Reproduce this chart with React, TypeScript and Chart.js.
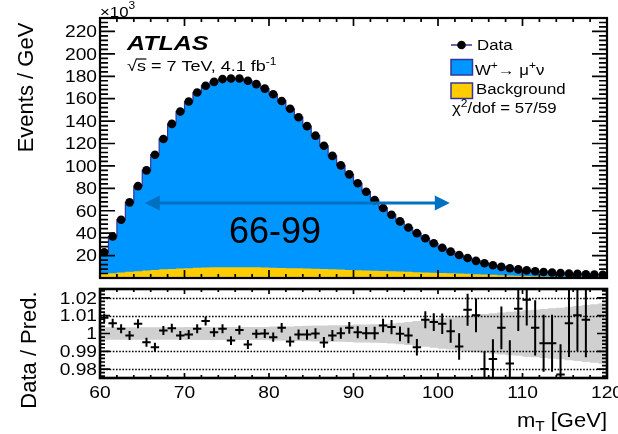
import React, { useEffect, useRef } from "react";
import { Chart, registerables } from "chart.js";

Chart.register(...registerables);

const W = 618;
const H = 434;
const FONT = "'Liberation Sans', Arial, Helvetica, sans-serif";

// m_T binning: 1 GeV bins between 60 and 120 GeV
const mtMin = 60;
const mtMax = 120;
const binWidth = 1;
const nBins = (mtMax - mtMin) / binWidth;
const binEdges = Array.from({ length: nBins + 1 }, (_, i) => mtMin + i * binWidth);
const binCentres = binEdges.slice(0, nBins).map((e) => e + binWidth / 2);

// Events / GeV in units of 10^3
const dataEvents = [
  23, 37, 52, 67.5, 82, 96, 110, 124, 137.5, 148.5,
  157.5, 165.5, 171.5, 175, 177.5, 178, 178, 176, 173, 169,
  164, 158, 151, 143.5, 135.5, 127, 118, 109, 100.5, 92.5,
  84.5, 77, 69.5, 62.5, 56.5, 50.5, 45, 40, 35.5, 31,
  27, 23.5, 20.5, 17.8, 15.3, 13.2, 11.4, 9.9, 8.7, 7.7,
  6.8, 6.0, 5.4, 4.9, 4.4, 4.0, 3.7, 3.4, 3.1, 2.9,
];

const wSignal = [
  19.5, 32.8, 47.1, 62.0, 75.9, 89.3, 102.8, 116.3, 129.4, 140.0,
  148.7, 156.4, 162.2, 165.5, 167.9, 168.3, 168.3, 166.4, 163.5, 159.6,
  154.8, 149.0, 142.2, 134.9, 127.1, 118.8, 110.0, 101.3, 93.0, 85.3,
  77.5, 70.3, 63.0, 56.3, 50.5, 44.8, 39.5, 34.8, 30.5, 26.3,
  22.5, 19.3, 16.5, 14.1, 11.9, 10.1, 8.6, 7.4, 6.5, 5.7,
  5.0, 4.4, 4.0, 3.7, 3.3, 3.0, 2.8, 2.6, 2.4, 2.3,
];

const background = [
  3.5, 4.2, 4.9, 5.5, 6.1, 6.7, 7.2, 7.7, 8.1, 8.5,
  8.8, 9.1, 9.3, 9.5, 9.6, 9.7, 9.7, 9.6, 9.5, 9.4,
  9.2, 9.0, 8.8, 8.6, 8.4, 8.2, 8.0, 7.7, 7.5, 7.2,
  7.0, 6.7, 6.5, 6.2, 6.0, 5.7, 5.5, 5.2, 5.0, 4.7,
  4.5, 4.2, 4.0, 3.7, 3.4, 3.1, 2.8, 2.5, 2.2, 2.0,
  1.8, 1.6, 1.4, 1.2, 1.1, 1.0, 0.9, 0.8, 0.7, 0.6,
];

// Data / prediction per bin
const ratio: (number | null)[] = [
  1.0088, 1.0058, 1.0027, 0.9989, 1.0055, 0.9951, 0.9923, 1.0017, 1.003, 0.9989,
  0.9994, 1.0027, 1.007, 1.0007, 1.0027, 0.996, 1.002, 0.9938, 0.9998, 1.0,
  0.9979, 1.0032, 0.9955, 0.9994, 0.9994, 1.0, 0.995, 0.9989, 1.0002, 1.0032,
  1.0007, 1.0002, 1.0002, 1.0045, 1.0036, 0.9998, 0.9989, 0.9923, 1.0077, 1.0064,
  1.0055, 1.0013, 0.9927, 1.0134, 1.0102, 0.98, 0.9857, 1.0032, 0.9832, 1.0139,
  1.019, 1.0032, 0.9945, 0.9945, 0.977, 1.0058, 1.0102, 1.0077, null, null,
];

const ratioErr = [
  0.0025, 0.0025, 0.0025, 0.0025, 0.0025, 0.0025, 0.0025, 0.0025, 0.0025, 0.0025,
  0.0025, 0.0025, 0.0025, 0.0025, 0.0025, 0.0025, 0.0025, 0.0025, 0.0025, 0.0025,
  0.0026, 0.0027, 0.0028, 0.0028, 0.0029, 0.003, 0.003, 0.0031, 0.0032, 0.0033,
  0.0034, 0.0035, 0.0036, 0.0038, 0.004, 0.0042, 0.0044, 0.0046, 0.0048, 0.005,
  0.0058, 0.0065, 0.0075, 0.009, 0.0095, 0.01, 0.011, 0.012, 0.013, 0.0125,
  0.0145, 0.0155, 0.016, 0.016, 0.017, 0.019, 0.02, 0.021, 0.022, 0.023,
];

// half width of the prediction uncertainty band
const systBand = [
  0.0035, 0.0035, 0.0035, 0.0035, 0.0035, 0.0035, 0.0035, 0.0035, 0.0035, 0.0035,
  0.0037, 0.0037, 0.0037, 0.0037, 0.0037, 0.0037, 0.0037, 0.0037, 0.0037, 0.0037,
  0.004, 0.004, 0.004, 0.0042, 0.0043, 0.0045, 0.0045, 0.0046, 0.0047, 0.0048,
  0.005, 0.005, 0.0052, 0.0054, 0.0056, 0.006, 0.0065, 0.007, 0.0075, 0.008,
  0.0085, 0.009, 0.0095, 0.01, 0.0105, 0.011, 0.0114, 0.0118, 0.0122, 0.0125,
  0.013, 0.0134, 0.0138, 0.0142, 0.0145, 0.015, 0.0155, 0.016, 0.0165, 0.017,
];

const eventTicks = [20, 40, 60, 80, 100, 120, 140, 160, 180, 200, 220];
const ratioTicks = [0.98, 0.99, 1, 1.01, 1.02];
const ratioTickLabels = ["0.98", "0.99", "1", "1.01", "1.02"];
const ratioGridLines = [0.98, 0.99, 1.01, 1.02];
const mtTicks = [60, 70, 80, 90, 100, 110, 120];

const eventsMax = 232;
const ratioMin = 0.975;
const ratioMax = 1.025;

// fit window annotation
const windowLow = 65.3;
const windowHigh = 101.4;
const windowLevel = 67;
const windowLabel = "66-99";
const windowLabelMt = 80.7;
const windowLabelLevel = 31;

const BLUE = "rgb(0,150,255)";
const YELLOW = "rgb(255,204,0)";
const OUTLINE = "#34349c";
const BAND = "#d0d0d0";
const ARROW = "#0070c0";

const steps = (vals: number[]) => [
  ...vals.map((v, i) => ({ x: binEdges[i], y: v })),
  { x: binEdges[nBins], y: vals[nBins - 1] },
];

type Run = { t: string; size: number; dy?: number; weight?: string; style?: string };

function fontOf(r: Run) {
  return [r.style, r.weight, `${r.size}px`, FONT].filter(Boolean).join(" ");
}

function drawRuns(
  ctx: CanvasRenderingContext2D,
  runs: Run[],
  x: number,
  y: number,
  sx = 1,
  align: "left" | "right" | "center" = "left"
) {
  ctx.save();
  const widths = runs.map((r) => {
    ctx.font = fontOf(r);
    return ctx.measureText(r.t).width;
  });
  const total = widths.reduce((a, b) => a + b, 0) * sx;
  const x0 = align === "left" ? x : align === "right" ? x - total : x - total / 2;
  ctx.translate(x0, y);
  ctx.scale(sx, 1);
  ctx.textAlign = "left";
  ctx.textBaseline = "alphabetic";
  ctx.fillStyle = "#000";
  let px = 0;
  const starts: number[] = [];
  runs.forEach((r, i) => {
    ctx.font = fontOf(r);
    starts.push(x0 + px * sx);
    ctx.fillText(r.t, px, r.dy || 0);
    px += widths[i];
  });
  ctx.restore();
  return { starts, widths: widths.map((w) => w * sx) };
}

function drawRotated(ctx: CanvasRenderingContext2D, text: string, baseX: number, cy: number, size: number) {
  ctx.save();
  ctx.translate(baseX, cy);
  ctx.rotate(-Math.PI / 2);
  ctx.font = `${size}px ${FONT}`;
  ctx.fillStyle = "#000";
  ctx.textAlign = "center";
  ctx.textBaseline = "alphabetic";
  ctx.fillText(text, 0, 0);
  ctx.restore();
}

type TickCfg = {
  yMajor: number;
  yMinor: number;
  yMajorLen: number;
  yMinorLen: number;
  xMajorLen: number;
  xMinorLen: number;
  frame: number;
};

function drawFrameAndTicks(chart: any, o: TickCfg) {
  const { ctx, chartArea: a, scales } = chart;
  const x = scales.x;
  const y = scales.y;
  ctx.save();
  ctx.strokeStyle = "#000";
  ctx.lineWidth = 1.7;
  ctx.beginPath();
  const k0 = Math.ceil(y.min / o.yMinor - 1e-6);
  const k1 = Math.floor(y.max / o.yMinor + 1e-6);
  for (let k = k0; k <= k1; k++) {
    const v = k * o.yMinor;
    const r = v / o.yMajor;
    const major = Math.abs(r - Math.round(r)) < 1e-6;
    const len = major ? o.yMajorLen : o.yMinorLen;
    const py = y.getPixelForValue(v);
    ctx.moveTo(a.left, py);
    ctx.lineTo(a.left + len, py);
    ctx.moveTo(a.right, py);
    ctx.lineTo(a.right - len, py);
  }
  for (let v = mtMin; v <= mtMax; v += 2) {
    const len = v % 10 === 0 ? o.xMajorLen : o.xMinorLen;
    const px = x.getPixelForValue(v);
    ctx.moveTo(px, a.bottom);
    ctx.lineTo(px, a.bottom - len);
    ctx.moveTo(px, a.top);
    ctx.lineTo(px, a.top + len);
  }
  ctx.stroke();
  ctx.lineWidth = o.frame;
  ctx.strokeRect(a.left, a.top, a.right - a.left, a.bottom - a.top);
  ctx.restore();
}

const TICK_FONT = 16;
const TICK_SX = 1.2;

function drawYLabels(chart: any, values: number[], labels: string[]) {
  const { ctx, chartArea: a, scales } = chart;
  values.forEach((v, i) => {
    const py = scales.y.getPixelForValue(v);
    drawRuns(ctx, [{ t: labels[i], size: TICK_FONT }], a.left - 3, py + TICK_FONT * 0.36, TICK_SX, "right");
  });
}

const topPlugin = {
  id: "topPanelDecor",
  afterDraw(chart: any) {
    const { ctx, chartArea: a, scales } = chart;
    drawFrameAndTicks(chart, {
      yMajor: 20,
      yMinor: 4,
      yMajorLen: 15,
      yMinorLen: 8,
      xMajorLen: 8,
      xMinorLen: 4,
      frame: 2.2,
    });
    drawYLabels(chart, eventTicks, eventTicks.map(String));

    // ×10^3 multiplier
    drawRuns(ctx, [{ t: "\u00d710", size: 14 }, { t: "3", size: 10, dy: -8 }], a.left, 17, 1.2);

    drawRotated(ctx, "Events / GeV", 33, 87.5, 22);

    // experiment label
    drawRuns(ctx, [{ t: "ATLAS", size: 21, weight: "bold", style: "italic" }], 127, 49.5, 1.19);
    const lab = drawRuns(
      ctx,
      [
        { t: "\u221a", size: 15 },
        { t: "s", size: 15 },
        { t: " = 7 TeV, 4.1 fb", size: 15 },
        { t: "-1", size: 10, dy: -6 },
      ],
      127,
      71,
      1.2
    );
    ctx.save();
    ctx.strokeStyle = "#000";
    ctx.lineWidth = 1.2;
    ctx.beginPath();
    ctx.moveTo(lab.starts[1] - 1, 59);
    ctx.lineTo(lab.starts[1] + lab.widths[1] + 0.5, 59);
    ctx.stroke();
    ctx.restore();

    // legend
    ctx.save();
    ctx.strokeStyle = OUTLINE;
    ctx.lineWidth = 1.5;
    ctx.beginPath();
    ctx.moveTo(451, 45);
    ctx.lineTo(472, 45);
    ctx.stroke();
    ctx.fillStyle = "#000";
    ctx.beginPath();
    ctx.arc(461.5, 45, 4.3, 0, Math.PI * 2);
    ctx.fill();
    ctx.fillStyle = BLUE;
    ctx.fillRect(451, 59.5, 21.5, 15.5);
    ctx.strokeRect(451, 59.5, 21.5, 15.5);
    ctx.fillStyle = YELLOW;
    ctx.fillRect(451, 83, 21.5, 15.5);
    ctx.strokeRect(451, 83, 21.5, 15.5);
    ctx.restore();
    drawRuns(ctx, [{ t: "Data", size: 14 }], 477, 50, 1.2);
    drawRuns(
      ctx,
      [
        { t: "W", size: 14 },
        { t: "+", size: 10, dy: -6 },
        { t: "\u2192 \u03bc", size: 14 },
        { t: "+", size: 10, dy: -6 },
        { t: "\u03bd", size: 14 },
      ],
      475,
      74.5,
      1.2
    );
    drawRuns(ctx, [{ t: "Background", size: 14 }], 476, 93.5, 1.2);
    drawRuns(
      ctx,
      [
        { t: "\u03c7", size: 14 },
        { t: "2", size: 10, dy: -6 },
        { t: "/dof = 57/59", size: 14 },
      ],
      452,
      112.5,
      1.2
    );

    // fit window arrow
    const x0 = scales.x.getPixelForValue(windowLow);
    const x1 = scales.x.getPixelForValue(windowHigh);
    const ay = scales.y.getPixelForValue(windowLevel);
    const head = 15;
    const hw = 7.5;
    ctx.save();
    ctx.strokeStyle = ARROW;
    ctx.fillStyle = ARROW;
    ctx.lineWidth = 3;
    ctx.beginPath();
    ctx.moveTo(x0 + head - 1, ay);
    ctx.lineTo(x1 - head + 1, ay);
    ctx.stroke();
    ctx.beginPath();
    ctx.moveTo(x0, ay);
    ctx.lineTo(x0 + head, ay - hw);
    ctx.lineTo(x0 + head, ay + hw);
    ctx.closePath();
    ctx.fill();
    ctx.beginPath();
    ctx.moveTo(x1, ay);
    ctx.lineTo(x1 - head, ay - hw);
    ctx.lineTo(x1 - head, ay + hw);
    ctx.closePath();
    ctx.fill();
    ctx.restore();
    drawRuns(
      ctx,
      [{ t: windowLabel, size: 36 }],
      scales.x.getPixelForValue(windowLabelMt),
      scales.y.getPixelForValue(windowLabelLevel),
      1,
      "center"
    );
  },
};

const ratioPlugin = {
  id: "ratioPanelDecor",
  afterDatasetsDraw(chart: any) {
    const { ctx, chartArea: a, scales } = chart;
    const x = scales.x;
    const y = scales.y;
    ctx.save();
    ctx.beginPath();
    ctx.rect(a.left, a.top, a.right - a.left, a.bottom - a.top);
    ctx.clip();
    // dotted reference lines
    ctx.strokeStyle = "#000";
    ctx.lineWidth = 1.3;
    ctx.setLineDash([1.6, 1.6]);
    ctx.beginPath();
    ratioGridLines.forEach((v) => {
      const py = Math.round(y.getPixelForValue(v)) + 0.5;
      ctx.moveTo(a.left, py);
      ctx.lineTo(a.right, py);
    });
    ctx.stroke();
    ctx.setLineDash([]);
    // data / prediction with statistical errors
    const meta = chart.getDatasetMeta(0);
    ctx.lineWidth = 2;
    ctx.beginPath();
    meta.data.forEach((pt: any, i: number) => {
      const r = ratio[i];
      if (r == null || pt.skip) return;
      const xl = x.getPixelForValue(binCentres[i] - binWidth / 2);
      const xr = x.getPixelForValue(binCentres[i] + binWidth / 2);
      const yt = y.getPixelForValue(r + ratioErr[i]);
      const yb = y.getPixelForValue(r - ratioErr[i]);
      ctx.moveTo(xl, pt.y);
      ctx.lineTo(xr, pt.y);
      ctx.moveTo(pt.x, yt);
      ctx.lineTo(pt.x, yb);
    });
    ctx.stroke();
    ctx.restore();
  },
  afterDraw(chart: any) {
    const { ctx, chartArea: a, scales } = chart;
    drawFrameAndTicks(chart, {
      yMajor: 0.01,
      yMinor: 0.002,
      yMajorLen: 10,
      yMinorLen: 5,
      xMajorLen: 5,
      xMinorLen: 3,
      frame: 2.6,
    });
    drawYLabels(chart, ratioTicks, ratioTickLabels);
    mtTicks.forEach((v) => {
      drawRuns(ctx, [{ t: String(v), size: TICK_FONT }], scales.x.getPixelForValue(v), 397.5, TICK_SX, "center");
    });
    drawRotated(ctx, "Data / Pred.", 36, 350, 22);
    drawRuns(
      ctx,
      [
        { t: "m", size: 20 },
        { t: "T", size: 14, dy: 4 },
        { t: " [GeV]", size: 20 },
      ],
      a.right,
      427,
      1.1,
      "right"
    );
  },
};

export default function App() {
  const topRef = useRef<HTMLCanvasElement>(null);
  const ratioRef = useRef<HTMLCanvasElement>(null);

  useEffect(() => {
    const total = wSignal.map((v, i) => v + background[i]);

    const top = new Chart(topRef.current as HTMLCanvasElement, {
      type: "line",
      data: {
        datasets: [
          {
            label: "Data",
            data: binCentres.map((x, i) => ({ x, y: dataEvents[i] })),
            showLine: false,
            pointRadius: 4.3,
            pointBorderWidth: 0,
            backgroundColor: "#000",
            borderColor: "#000",
            order: 0,
          },
          {
            label: "Background",
            data: steps(background),
            stepped: "before",
            fill: "origin",
            backgroundColor: YELLOW,
            borderColor: "rgba(0,0,0,0)",
            borderWidth: 0,
            pointRadius: 0,
            order: 1,
          },
          {
            label: "W+ -> mu+ nu",
            data: steps(total),
            stepped: "before",
            fill: "origin",
            backgroundColor: BLUE,
            borderColor: OUTLINE,
            borderWidth: 1.2,
            pointRadius: 0,
            order: 2,
          },
        ],
      },
      options: {
        responsive: false,
        animation: false,
        events: [],
        layout: { padding: { left: 100, top: 18, right: W - 607, bottom: H - 278 } },
        plugins: { legend: { display: false }, tooltip: { enabled: false } },
        scales: {
          x: { type: "linear", display: false, min: mtMin, max: mtMax },
          y: { type: "linear", display: false, min: 0, max: eventsMax },
        },
      },
      plugins: [topPlugin],
    } as any);

    const bot = new Chart(ratioRef.current as HTMLCanvasElement, {
      type: "line",
      data: {
        datasets: [
          {
            label: "Data / Pred.",
            data: binCentres.map((x, i) => ({ x, y: ratio[i] })),
            showLine: false,
            pointRadius: 0,
            order: 0,
          },
          {
            label: "band up",
            data: steps(systBand.map((e) => 1 + e)),
            stepped: "before",
            fill: "+1",
            backgroundColor: BAND,
            borderColor: "rgba(0,0,0,0)",
            borderWidth: 0,
            pointRadius: 0,
            order: 1,
          },
          {
            label: "band down",
            data: steps(systBand.map((e) => 1 - e)),
            stepped: "before",
            fill: false,
            borderColor: "rgba(0,0,0,0)",
            borderWidth: 0,
            pointRadius: 0,
            order: 2,
          },
        ],
      },
      options: {
        responsive: false,
        animation: false,
        events: [],
        layout: { padding: { left: 100, top: 289, right: W - 607, bottom: H - 378 } },
        plugins: { legend: { display: false }, tooltip: { enabled: false } },
        scales: {
          x: { type: "linear", display: false, min: mtMin, max: mtMax },
          y: { type: "linear", display: false, min: ratioMin, max: ratioMax },
        },
      },
      plugins: [ratioPlugin],
    } as any);

    return () => {
      top.destroy();
      bot.destroy();
    };
  }, []);

  return (
    <div style={{ position: "fixed", left: 0, top: 0, width: W, height: H, background: "#fff" }}>
      <canvas ref={topRef} width={W} height={H} style={{ position: "absolute", left: 0, top: 0 }} />
      <canvas ref={ratioRef} width={W} height={H} style={{ position: "absolute", left: 0, top: 0 }} />
    </div>
  );
}
